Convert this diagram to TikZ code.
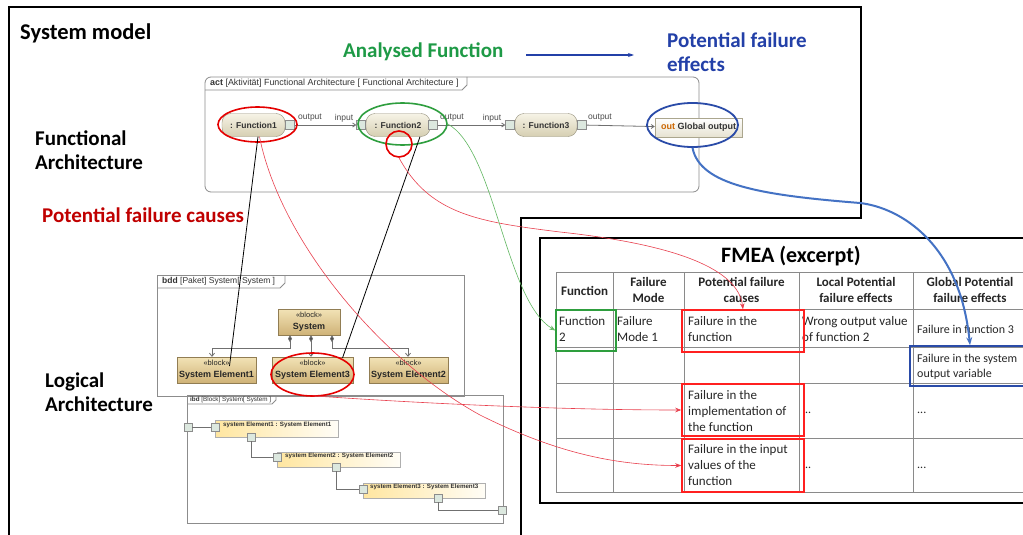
\documentclass[tikz,border=0pt]{standalone}
\usepackage{fontspec}
\setmainfont{Carlito}
\newfontfamily\umlfont{Liberation Sans}
\usetikzlibrary{arrows.meta,shapes.geometric,calc}
\definecolor{agreen}{HTML}{1E9A46}
\definecolor{ared}{HTML}{C00000}
\definecolor{eblue}{HTML}{2A4BA8}
\definecolor{tblue}{HTML}{2340A8}
\definecolor{cblue}{HTML}{4472C4}
\definecolor{bred}{HTML}{FF2020}
\definecolor{egreen}{HTML}{2E9E3E}
\definecolor{umlgray}{HTML}{8C8C8C}
\definecolor{pilltop}{HTML}{F6F3E6}
\definecolor{pillbot}{HTML}{D6CFB2}
\definecolor{blocktop}{HTML}{F2E3B6}
\definecolor{blockbot}{HTML}{CFB277}
\definecolor{parttop}{HTML}{FFE6A0}
\definecolor{partbot}{HTML}{FFFDF6}
\definecolor{portfill}{HTML}{DCE8DF}
\definecolor{tgray}{HTML}{8A8A8A}
\definecolor{rcurve}{HTML}{E8404E}
\definecolor{gcurve}{HTML}{62B862}
\begin{document}
\begin{tikzpicture}[x=1pt,y=-1pt,
  title/.style={font=\fontsize{21}{24}\selectfont\bfseries, anchor=west, inner sep=0pt, align=left},
  tline/.style={draw=tgray, line width=0.8pt},
  hdr/.style={font=\fontsize{13}{16}\selectfont\bfseries, align=center, inner sep=0pt, text=black!85},
  cell/.style={font=\fontsize{13}{16}\selectfont, align=left, inner sep=0pt, anchor=north west, text=black!85},
  smallcell/.style={font=\fontsize{12}{15}\selectfont, align=left, inner sep=0pt, text=black!85},
  rbox/.style={draw=bred, line width=1.5pt, inner sep=0pt},
  gbox/.style={draw=egreen, line width=1.5pt, inner sep=0pt},
  bbox/.style={draw=eblue, line width=1.5pt, inner sep=0pt},
  umlframe/.style={draw=umlgray, line width=0.8pt},
  umlhdr/.style={font=\umlfont, anchor=west, inner sep=0pt, text=black!80},
  pill/.style={draw=pillbot!70!black, top color=pilltop, bottom color=pillbot, rounded corners=9pt, minimum height=23pt, inner sep=0pt, font=\umlfont\bfseries\fontsize{8.5}{10}\selectfont, text=black!80},
  port/.style={draw=umlgray, fill=portfill, minimum size=9pt, inner sep=0pt},
  iport/.style={draw=umlgray, fill=portfill, minimum size=8pt, inner sep=0pt},
  plabel/.style={font=\umlfont\fontsize{8.5}{10}\selectfont, inner sep=0pt, text=black!70},
  flow/.style={draw=umlgray!80!black, line width=0.8pt, -{Straight Barb[length=3pt,width=4pt]}},
  block/.style={draw=blockbot!70!black, top color=blocktop, bottom color=blockbot, minimum height=26pt, inner sep=0pt, align=center, font=\umlfont\fontsize{9}{12}\selectfont, text=black!85},
  comp/.style={draw=umlgray!80!black, line width=0.8pt, {Diamond[length=7pt,width=4pt,fill=black!70]}-{Straight Barb[length=3pt,width=5pt]}},
  part/.style={draw=umlgray!70, left color=parttop, right color=partbot, inner sep=0pt},
  parttext/.style={font=\umlfont\bfseries\fontsize{6.2}{7}\selectfont, anchor=west, inner sep=0pt, text=black!80},
  wire/.style={draw=umlgray!80!black, line width=0.8pt},
  rell/.style={draw=red!90!black, line width=1.6pt, ellipse, inner sep=0pt},
  blk/.style={draw=black, line width=0.8pt},
  rcur/.style={draw=rcurve, line width=0.6pt, -{Stealth[length=6pt,width=4.5pt]}},
  gcur/.style={draw=gcurve, line width=0.6pt, -{Stealth[length=6pt,width=4.5pt]}},
  bcur/.style={draw=cblue, line width=2pt, -{Stealth[length=8pt,width=6pt]}}
]
\useasboundingbox (0,0) rectangle (1023,535);
\clip (0,0) rectangle (1023,535);
\fill[white] (0,0) rectangle (1023,535);

% system model frame
\draw[line width=1.2pt] (9,540) -- (9,7) -- (861,7) -- (861,218) -- (521,218) -- (521,540);

% titles
\node[title, font=\fontsize{22.5}{26}\selectfont\bfseries] (sm) at (20,33) {System model};
\node[title, text=agreen] (af) at (343,52) {Analysed Function};
\node[title, text=tblue] (pfe) at (667,52) {Potential failure\\effects};
\node[title] (fa) at (35,150) {Functional\\Architecture};
\node[title, text=ared] (pfc) at (42,215) {Potential failure causes};
\node[title] (la) at (45,392) {Logical\\Architecture};
\coordinate (a1) at (526,55);
\coordinate (a2) at (634,55);
\draw[-{Stealth[length=6pt,width=4pt]}, line width=1.1pt, tblue] (a1) -- (a2);

% ===== FMEA =====
\draw[line width=2pt] (540,238) rectangle (1040,503);
\node[font=\fontsize{22}{26}\selectfont\bfseries, inner sep=0pt] (fmea) at (791,256) {FMEA (excerpt)};
\foreach \x in {556,613,684,799,913} \draw[tline] (\x,272) -- (\x,492);
\foreach \y in {272,309,347,383,438,492} \draw[tline] (556,\y) -- (1040,\y);
\node[hdr] (h1) at (584.5,291) {Function};
\node[hdr] (h2) at (648.5,290) {Failure\\Mode};
\node[hdr] (h3) at (741.5,290) {Potential failure\\causes};
\node[hdr] (h4) at (856,290) {Local Potential\\failure effects};
\node[hdr] (h5) at (970,290) {Global Potential\\failure effects};
\node[cell] (c11) at (559,316.5) {Function\\2};
\node[cell] (c12) at (617,316.5) {Failure\\Mode 1};
\node[cell] (c13) at (688,316.5) {Failure in the\\function};
\node[cell] (c14) at (802,316.5) {Wrong output value\\of function 2};
\node[smallcell, anchor=west] (c15) at (917,329) {Failure in function 3};
\node[smallcell, anchor=north west] (c25) at (917,353.5) {Failure in the system\\output variable};
\node[cell] (c33) at (688,390.5) {Failure in the\\implementation of\\the function};
\node[smallcell, anchor=west] (c34) at (805,413) {..};
\node[smallcell, anchor=west] (c35) at (917,413) {...};
\node[cell] (c43) at (688,444.5) {Failure in the input\\values of the\\function};
\node[smallcell, anchor=west] (c44) at (805,468) {..};
\node[smallcell, anchor=west] (c45) at (917,468) {...};
\node[rbox, minimum width=122pt, minimum height=42pt] (r1) at (743,331) {};
\node[rbox, minimum width=122pt, minimum height=52pt] (r2) at (743,410) {};
\node[rbox, minimum width=122pt, minimum height=53pt] (r3) at (743,465.5) {};
\node[gbox, minimum width=60pt, minimum height=41pt] (g1) at (586,330.5) {};
\node[bbox, minimum width=120pt, minimum height=40pt] (b1) at (970,366) {};

% ===== act diagram =====
\draw[umlframe, rounded corners=6pt] (205,77) rectangle (699,192);
\draw[umlframe] (205,90) -- (462,90) -- (467,85) -- (467,77);
\node[umlhdr, font=\umlfont\fontsize{8.9}{10}\selectfont] (acth) at (210,83.5) {\textbf{act} [Aktivität] Functional Architecture [ Functional Architecture ]};
\node[pill, minimum width=63pt] (f1) at (253.5,125) {: Function1};
\node[pill, minimum width=64pt] (f2) at (398,125) {: Function2};
\node[pill, minimum width=62pt] (f3) at (546,125) {: Function3};
\node[port] (f1o) at (290,125) {};
\node[port] (f2i) at (361,125) {};
\node[port] (f2o) at (433,125) {};
\node[port] (f3i) at (510,125) {};
\node[port] (f3o) at (582,125) {};
\node[draw=pillbot!80!black, top color=white, bottom color=pillbot!60, minimum width=87pt, minimum height=19pt, inner sep=0pt, font=\umlfont\bfseries\fontsize{9}{10}\selectfont, text=black!80] (go) at (698.5,127.5) {{\color{orange!80!black}out} Global output};
\draw[flow] (f1o) -- (f2i);
\draw[flow] (f2o) -- (f3i);
\draw[flow] (f3o) -- (go);
\node[plabel] (l1) at (310,118) {output};
\node[plabel] (l2) at (344,118) {input};
\node[plabel] (l3) at (452,118) {output};
\node[plabel] (l4) at (492,118) {input};
\node[plabel] (l5) at (600,118) {output};

% ===== bdd diagram =====
\draw[umlframe] (157,275) rectangle (464,396);
\draw[umlframe] (157,288) -- (280,288) -- (285,283) -- (285,275);
\node[umlhdr, font=\umlfont\fontsize{8.5}{10}\selectfont] (bddh) at (162,281.5) {\textbf{bdd} [Paket] System[ System ]};
\node[block, minimum width=62pt] (sys) at (309,322) {{\fontsize{7.5}{9}\selectfont «block»}\\\textbf{System}};
\node[block, minimum width=79pt] (se1) at (216.5,370) {{\fontsize{7.5}{9}\selectfont «block»}\\\textbf{System Element1}};
\node[block, minimum width=81pt] (se3) at (312.5,370) {{\fontsize{7.5}{9}\selectfont «block»}\\\textbf{System Element3}};
\node[block, minimum width=79pt] (se2) at (408.5,370) {{\fontsize{7.5}{9}\selectfont «block»}\\\textbf{System Element2}};
\draw[comp] ($(sys.south)+(-19,0)$) -- ++(0,13) -| ($(se1.north)+(-4.5,0)$);
\draw[comp] ($(sys.south)+(2,0)$) -- ($(se3.north)+(-1.5,0)$);
\draw[comp] ($(sys.south)+(23,0)$) -- ++(0,13) -| ($(se2.north)+(-0.5,0)$);

% ===== ibd diagram =====
\draw[umlframe] (187,395) rectangle (503,523);
\draw[umlframe] (187,404) -- (272,404) -- (276,400) -- (276,395);
\node[umlhdr, font=\umlfont\fontsize{6.3}{7}\selectfont] (ibdh) at (190,399.5) {\textbf{ibd} [Block] System[ System ]};
\node[part, minimum width=123pt, minimum height=17pt] (p1) at (276.5,428.5) {};
\node[part, minimum width=123pt, minimum height=15pt] (p2) at (338.5,459.5) {};
\node[part, minimum width=122pt, minimum height=15pt] (p3) at (424,490.5) {};
\node[parttext] (t1) at (223,425) {system Element1 : System Element1};
\node[parttext] (t2) at (285,455.5) {system Element2 : System Element2};
\node[parttext] (t3) at (370,486.5) {system Element3 : System Element3};
\node[iport] (ip0) at (188,427) {};
\node[iport] (ip1l) at (215,427) {};
\node[iport] (ip1b) at (251,437) {};
\node[iport] (ip2l) at (277,457) {};
\node[iport] (ip2b) at (336,467) {};
\node[iport] (ip3l) at (363,489) {};
\node[iport] (ip3b) at (438,498) {};
\node[iport] (ip4) at (502,510) {};
\draw[wire] (ip0) -- (ip1l);
\draw[wire] (ip1b) |- (ip2l);
\draw[wire] (ip2b) |- (ip3l);
\draw[wire] (ip3b) |- (ip4);

% ===== highlight ellipses =====
\node[rell, minimum width=79pt, minimum height=35pt] (e1) at (257.5,124.5) {};
\node[draw=egreen, line width=1.6pt, ellipse, inner sep=0pt, minimum width=89pt, minimum height=42pt] (e2) at (402.5,124) {};
\node[draw=red!90!black, line width=1.6pt, circle, inner sep=0pt, minimum size=26pt] (c2) at (399,144) {};
\node[draw=eblue, line width=1.8pt, ellipse, inner sep=0pt, minimum width=91pt, minimum height=44pt] (eg) at (692.5,125) {};
\node[rell, minimum width=83pt, minimum height=43pt] (e3) at (312.5,374.5) {};

% ===== trace lines =====
\draw[blk] ($(f1.south)+(4.5,0)$) -- ($(se1.center)+(13,-4)$);
\draw[blk] ($(f2.south)+(22,0)$) -- ($(se3.center)+(30,-12)$);
\draw[rcur] (c2.south) .. controls (430,215) and (480,222) .. (560,232) .. controls (680,245) and (738,270) .. (r1.north);
\draw[rcur] ($(f1.south)+(6,0)$) .. controls (280,240) and (380,360) .. (480,415) .. controls (560,455) and (620,465.5) .. (r3.west);
\draw[rcur] ($(e3.south)+(0,-1)$) .. controls (400,402) and (550,410) .. (r2.west);
\draw[gcur] (e2.east) .. controls (495,150) and (505,300) .. (g1.west);
\draw[bcur] (eg.south) .. controls (700,185) and (760,195) .. (860,203) .. controls (902,208) and (960,245) .. (b1.north);
\end{tikzpicture}
\end{document}
